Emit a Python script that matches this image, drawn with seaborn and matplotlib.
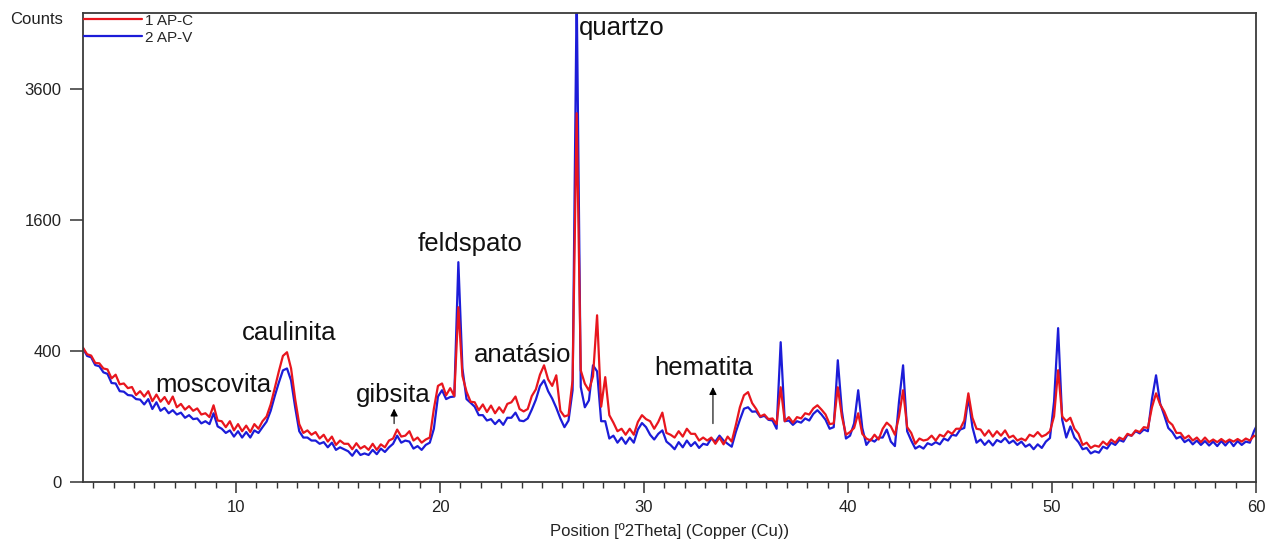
import numpy as np
import pandas as pd
import matplotlib
matplotlib.use("Agg")
import matplotlib.pyplot as plt
from matplotlib.ticker import MultipleLocator, FixedLocator
import seaborn as sns

# 2-theta positions (degrees), 0.2 deg step from 2.5
theta = np.round(2.5 + 0.2 * np.arange(290), 1)

# Sample 1 AP-C (red), counts, rows of 5 points (one degree each)
counts_apc = [
    420, 380, 372, 330, 328,
    300, 295, 250, 268, 222,
    226, 205, 210, 176, 192,
    170, 192, 152, 178, 150,
    168, 142, 170, 130, 142,
    122, 134, 118, 126, 106,
    110, 98, 137, 88, 86,
    70, 86, 62, 78, 60,
    74, 58, 78, 66, 86,
    100, 140, 205, 285, 370,
    392, 300, 160, 78, 56,
    62, 52, 58, 44, 52,
    38, 48, 32, 40, 34,
    34, 25, 35, 26, 30,
    24, 34, 24, 33, 28,
    40, 44, 64, 48, 50,
    60, 40, 46, 36, 42,
    46, 125, 215, 226, 175,
    205, 172, 711, 262, 190,
    150, 148, 120, 140, 114,
    136, 110, 130, 112, 142,
    148, 170, 124, 116, 124,
    172, 200, 268, 317, 245,
    215, 265, 118, 100, 104,
    241, 3166, 290, 225, 195,
    260, 647, 132, 256, 104,
    82, 60, 66, 52, 66,
    52, 84, 104, 92, 86,
    66, 84, 112, 56, 52,
    46, 60, 48, 66, 54,
    54, 40, 46, 40, 46,
    34, 46, 33, 48, 38,
    75, 130, 175, 188, 145,
    124, 100, 106, 92, 94,
    78, 209, 86, 98, 82,
    98, 94, 110, 106, 126,
    137, 122, 106, 78, 80,
    209, 100, 52, 58, 68,
    110, 54, 44, 40, 52,
    42, 66, 82, 72, 52,
    100, 196, 70, 56, 34,
    44, 40, 42, 50, 40,
    52, 48, 60, 54, 66,
    66, 88, 183, 96, 66,
    64, 50, 62, 48, 60,
    50, 62, 46, 50, 40,
    44, 40, 52, 48, 58,
    48, 52, 60, 100, 291,
    100, 86, 96, 66, 54,
    32, 36, 27, 31, 29,
    38, 32, 42, 36, 46,
    42, 54, 50, 62, 58,
    70, 68, 130, 183, 140,
    116, 86, 76, 56, 56,
    44, 50, 40, 46, 37,
    46, 37, 42, 37, 43,
    37, 42, 38, 43, 38,
    44, 40, 50, 46, 45,
]

# Sample 2 AP-V (blue), counts
counts_apv = [
    415, 370, 362, 318, 312,
    280, 272, 228, 226, 192,
    190, 176, 174, 160, 158,
    140, 160, 124, 148, 118,
    128, 110, 120, 106, 112,
    96, 104, 92, 94, 80,
    86, 78, 110, 72, 66,
    56, 62, 48, 60, 46,
    58, 46, 62, 56, 70,
    85, 118, 172, 230, 290,
    300, 240, 130, 60, 46,
    46, 40, 40, 34, 37,
    28, 36, 24, 28, 25,
    22, 16, 24, 17, 19,
    17, 24, 18, 26, 21,
    28, 34, 50, 36, 40,
    38, 26, 30, 24, 32,
    36, 66, 170, 196, 160,
    168, 170, 1125, 300, 160,
    146, 132, 104, 104, 88,
    92, 78, 90, 76, 96,
    96, 112, 88, 86, 94,
    122, 158, 214, 241, 192,
    162, 128, 94, 70, 88,
    196, 5600, 210, 130, 155,
    317, 285, 86, 86, 44,
    50, 36, 46, 34, 46,
    36, 64, 81, 70, 52,
    42, 54, 62, 38, 32,
    25, 37, 28, 40, 30,
    37, 27, 34, 32, 44,
    38, 50, 40, 34, 29,
    58, 90, 125, 130, 115,
    116, 98, 102, 90, 88,
    66, 455, 86, 88, 76,
    86, 82, 94, 88, 108,
    120, 106, 90, 66, 70,
    345, 118, 44, 50, 80,
    196, 68, 32, 42, 38,
    46, 46, 64, 38, 30,
    150, 317, 60, 40, 26,
    30, 26, 35, 32, 37,
    33, 44, 40, 52, 50,
    64, 68, 168, 70, 36,
    42, 32, 40, 31, 41,
    37, 45, 35, 40, 32,
    38, 29, 33, 25, 33,
    27, 38, 45, 150, 551,
    90, 46, 72, 46, 37,
    25, 27, 19, 22, 20,
    29, 26, 36, 32, 41,
    38, 52, 50, 60, 55,
    64, 60, 160, 265, 144,
    104, 68, 58, 44, 48,
    37, 42, 33, 40, 32,
    39, 31, 38, 30, 39,
    31, 40, 30, 39, 32,
    38, 36, 60, 81, 80,
]

series_names = ["1 AP-C", "2 AP-V"]
series_colors = {"1 AP-C": "#e8161e", "2 AP-V": "#1c1cd8"}

y_ticks = [0, 400, 1600, 3600]
x_ticks = [10, 20, 30, 40, 50, 60]

phase_labels = ["quartzo", "feldspato", "caulinita", "moscovita", "gibsita", "anatásio", "hematita"]
phase_label_x = [26.8, 21.47, 12.6, 8.87, 17.7, 24.07, 32.94]
phase_label_y = [4800, 1317, 515, 218, 175, 374, 301]
phase_label_ha = ["left", "center", "center", "center", "center", "center", "center"]

arrow_x = [17.75, 33.38]
arrow_tail = [72, 72]
arrow_head = [135, 222]

df = pd.DataFrame({
    "theta": np.concatenate([theta, theta]),
    "counts": np.array(counts_apc + counts_apv, dtype=float),
    "sample": [series_names[0]] * len(theta) + [series_names[1]] * len(theta),
})

sns.set_style("white")
plt.rcParams["font.family"] = ["Liberation Sans", "DejaVu Sans"]

fig = plt.figure(figsize=(12.73, 5.54), dpi=100)
ax = fig.add_axes([83 / 1273, 1 - 482 / 554, (1256 - 83) / 1273, (482 - 13) / 554])

sns.lineplot(data=df, x="theta", y="counts", hue="sample",
             hue_order=[series_names[1], series_names[0]],
             palette=series_colors, estimator=None, sort=False,
             linewidth=1.6, legend=False, ax=ax)

ax.set_yscale("function", functions=(lambda v: np.sqrt(np.clip(v, 0, None)), lambda v: np.square(v)))
ax.set_ylim(0, 5120)
ax.set_xlim(2.5, 60)
ax.yaxis.set_major_locator(FixedLocator(y_ticks))
ax.yaxis.set_minor_locator(FixedLocator([]))
ax.set_yticklabels([str(t) for t in y_ticks])
ax.xaxis.set_major_locator(FixedLocator(x_ticks))
ax.xaxis.set_minor_locator(MultipleLocator(1))

ax.tick_params(axis="x", which="major", direction="out", length=8, width=1.1,
               color="#333333", labelsize=12, pad=5, labelcolor="#222222", bottom=True)
ax.tick_params(axis="x", which="minor", direction="out", length=4, width=1.0,
               color="#333333", bottom=True)
ax.tick_params(axis="y", which="major", direction="out", length=9.5, width=1.1,
               color="#333333", labelsize=12, pad=6, labelcolor="#222222", left=True)

for s in ax.spines.values():
    s.set_visible(True)
    s.set_color("#3a3a3a")
    s.set_linewidth(1.3)

ax.set_xlabel("Position [º2Theta] (Copper (Cu))", fontsize=12, color="#222222", labelpad=6)
ax.set_ylabel("")
fig.text(10 / 1273, 1 - 19 / 554, "Counts", fontsize=12, color="#222222", ha="left", va="center")

lines = ax.get_lines()
ax.legend([lines[1], lines[0]], series_names, loc="upper left", bbox_to_anchor=(0, 1.0),
          frameon=False, borderpad=0, borderaxespad=0.05, handlelength=3.8,
          handletextpad=0.2, labelspacing=0.2, fontsize=11)

for lab, lx, ly, ha in zip(phase_labels, phase_label_x, phase_label_y, phase_label_ha):
    ax.text(lx, ly, lab, fontsize=18.5, ha=ha, va="center", color="#111111")

for axx, t, h in zip(arrow_x, arrow_tail, arrow_head):
    ax.annotate("", xy=(axx, h), xytext=(axx, t),
                arrowprops=dict(arrowstyle="-|>", color="black", lw=0.8, mutation_scale=11))

fig.savefig("out.png", dpi=100)
